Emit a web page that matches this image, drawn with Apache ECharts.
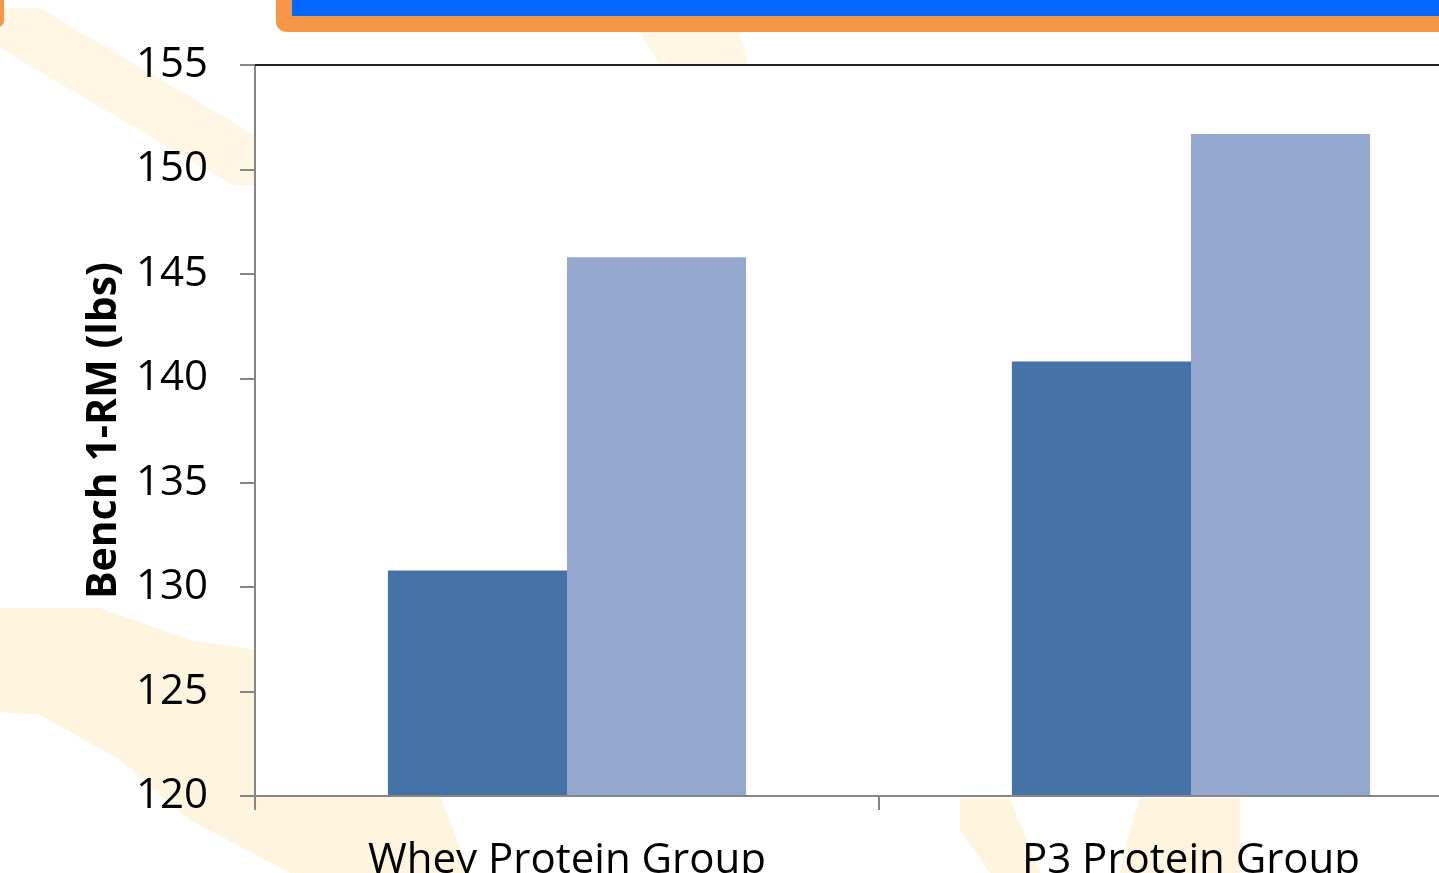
<!DOCTYPE html>
<html>
<head>
<meta charset="utf-8">
<script src="https://cdn.jsdelivr.net/npm/echarts@6/dist/echarts.min.js"></script>
<style>
  html, body { margin: 0; padding: 0; overflow: hidden; background: #fff; }
  #chart { width: 1600px; height: 873px; }
</style>
</head>
<body>
<div id="chart"></div>
<script>
// data
const categories = ['Whey Protein Group', 'P3 Protein Group']
const preValues = [130.8, 140.8]
const postValues = [145.8, 151.7]
const yMin = 120
const yMax = 155
const yStep = 5

const beige = '#fff1d4'

const myChart = echarts.init(document.getElementById('chart'))

const option = {
  backgroundColor: '#ffffff',
  animation: false,
  textStyle: { fontFamily: 'Open Sans' },
  grid: {
    left: 255,
    top: 65,
    right: 97,
    bottom: 77,
    containLabel: false,
    outerBoundsMode: 'none',
  },
  // slide decorations (header bar + faint pixel bands)
  graphic: [
    {
      type: 'polygon', z: -10, silent: true,
      shape: { points: [[0, 8], [40, 8], [255, 135], [255, 185], [232, 185], [0, 48]] },
      style: { fill: beige, opacity: 0.65 },
    },
    {
      type: 'polygon', z: -10, silent: true,
      shape: { points: [[640, 32], [740, 32], [748, 65], [660, 65]] },
      style: { fill: beige, opacity: 0.65 },
    },
    {
      type: 'polygon', z: -10, silent: true,
      shape: {
        points: [[0, 608], [100, 608], [190, 640], [255, 650], [255, 796], [440, 796],
          [470, 873], [290, 873], [190, 820], [120, 760], [40, 715], [0, 712]],
      },
      style: { fill: beige, opacity: 0.75 },
    },
    {
      type: 'polygon', z: -10, silent: true,
      shape: { points: [[960, 798], [1010, 798], [1040, 873], [990, 873], [960, 830]] },
      style: { fill: beige, opacity: 0.75 },
    },
    {
      type: 'polygon', z: -10, silent: true,
      shape: { points: [[1140, 798], [1240, 798], [1240, 873], [1120, 873], [1130, 830]] },
      style: { fill: beige, opacity: 0.75 },
    },
    {
      type: 'rect', z: 5, silent: true,
      shape: { x: 276, y: -40, width: 1400, height: 72, r: 10 },
      style: { fill: '#f79646' },
    },
    {
      type: 'rect', z: 6, silent: true,
      shape: { x: 292, y: -40, width: 1400, height: 56 },
      style: { fill: '#0066ff' },
    },
    {
      type: 'rect', z: 5, silent: true,
      shape: { x: -30, y: -30, width: 34, height: 57, r: 6 },
      style: { fill: '#f79646' },
    },
  ],
  xAxis: [
    {
      type: 'category',
      data: categories,
      axisLine: { lineStyle: { color: '#868686', width: 2 } },
      axisTick: { show: true, length: 14, lineStyle: { color: '#868686', width: 2 } },
      axisLabel: {
        color: '#000',
        fontSize: 42,
        margin: 44,
      },
      z: 3,
    },
    {
      type: 'category',
      position: 'top',
      data: categories,
      axisLine: { lineStyle: { color: '#222', width: 2 } },
      axisTick: { show: false },
      axisLabel: { show: false },
      z: 3,
    },
  ],
  yAxis: {
    type: 'value',
    min: yMin,
    max: yMax,
    interval: yStep,
    name: 'Bench 1-RM (lbs)',
    nameLocation: 'middle',
    nameGap: 128,
    nameTextStyle: {
      color: '#000',
      fontSize: 41,
      fontWeight: 'bold',
    },
    axisLine: { show: true, lineStyle: { color: '#868686', width: 2 } },
    axisTick: { show: true, length: 15, lineStyle: { color: '#868686', width: 2 } },
    axisLabel: {
      color: '#000',
      fontSize: 42,
      margin: 47,
    },
    splitLine: { show: false },
    z: 3,
  },
  series: [
    {
      name: 'Pre',
      type: 'bar',
      data: preValues,
      barGap: 0,
      barCategoryGap: '42.6%',
      itemStyle: { color: '#4573a7' },
      z: 2,
    },
    {
      name: 'Post',
      type: 'bar',
      data: postValues,
      barGap: 0,
      barCategoryGap: '42.6%',
      itemStyle: { color: '#95a9d0' },
      z: 2,
    },
  ],
}

myChart.setOption(option)

window.addEventListener('resize', function () {
  myChart.resize()
})
</script>
</body>
</html>
